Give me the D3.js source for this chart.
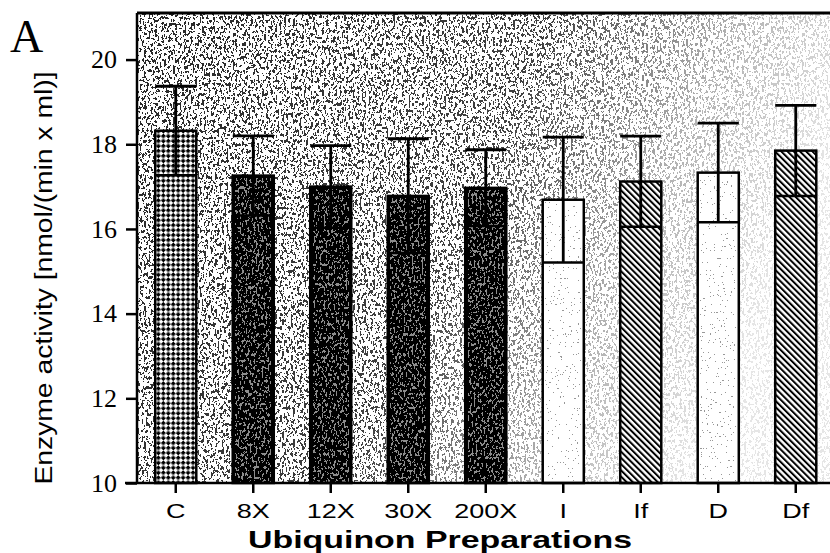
<!DOCTYPE html>
<html lang="en">
<head>
<meta charset="utf-8">
<script src="https://d3js.org/d3.v7.min.js"></script>
<style>
  body { margin: 0; background: #fff; }
  svg { display: block; }
</style>
</head>
<body>
<script>
// data
var categories = ["C", "8X", "12X", "30X", "200X", "I", "If", "D", "Df"];
var means = [18.32, 17.26, 17.0, 16.78, 16.97, 16.69, 17.12, 17.33, 17.85];
var errors = [1.05, 0.94, 0.97, 1.35, 0.9, 1.48, 1.07, 1.17, 1.07];
var yTicks = [10, 12, 14, 16, 18, 20];

// which fill each preparation uses
var fillKind = { "C": "cross", "8X": "dark", "12X": "dark", "30X": "dark", "200X": "dark",
                 "I": "open", "If": "hatch", "D": "open", "Df": "hatch" };

var w = 830, h = 553;
var pLeft = 137, pTop = 13, pBottom = 483;

var x = d3.scaleBand().domain(categories).range([pLeft, 834.5]).paddingInner(0.47).paddingOuter(0.235);
var y = d3.scaleLinear().domain([10, 21.1]).range([pBottom, pTop]);

var svg = d3.select("body").append("svg").attr("width", w).attr("height", h);
var defs = svg.append("defs");

// speckle filters (scan texture)
function speck(id, rgb, freq, seed, cut) {
  var f = defs.append("filter").attr("id", id)
    .attr("x", 0).attr("y", 0).attr("width", 1).attr("height", 1);
  f.append("feTurbulence").attr("type", "fractalNoise").attr("baseFrequency", freq)
    .attr("numOctaves", 3).attr("seed", seed);
  f.append("feColorMatrix").attr("type", "matrix")
    .attr("values", "0 0 0 0 " + rgb + " 0 0 0 0 " + rgb + " 0 0 0 0 " + rgb + " 4 0 0 0 " + cut);
  f.append("feComponentTransfer").append("feFuncA").attr("type", "discrete").attr("tableValues", "0 1");
}
speck("speckDark", 0, "0.45 0.3", 4, -1.75);
speck("speckLight", 1, "0.5 0.3", 9, -1.8);
speck("speckFew", 0, "0.7 0.5", 11, -2.4);

// fade of the background stipple, heavy at upper left
var grad = defs.append("linearGradient").attr("id", "fade")
  .attr("x1", 0).attr("y1", 0).attr("x2", 1).attr("y2", 0.3);
grad.append("stop").attr("offset", 0).attr("stop-color", "#fff").attr("stop-opacity", 0.85);
grad.append("stop").attr("offset", 0.55).attr("stop-color", "#fff").attr("stop-opacity", 0.75);
grad.append("stop").attr("offset", 0.8).attr("stop-color", "#fff").attr("stop-opacity", 0.3);
grad.append("stop").attr("offset", 1).attr("stop-color", "#fff").attr("stop-opacity", 0.1);
defs.append("mask").attr("id", "fadeMask").attr("maskUnits", "userSpaceOnUse")
  .attr("x", 0).attr("y", 0).attr("width", w).attr("height", h)
  .append("rect").attr("x", pLeft).attr("y", pTop).attr("width", w - pLeft).attr("height", pBottom - pTop)
  .attr("fill", "url(#fade)");

// crosshatch for control
var cross = defs.append("pattern").attr("id", "cross").attr("patternUnits", "userSpaceOnUse")
  .attr("width", 7).attr("height", 7).attr("patternTransform", "rotate(45)");
cross.append("rect").attr("width", 7).attr("height", 7).attr("fill", "#fff");
cross.append("rect").attr("width", 3.5).attr("height", 3.5).attr("fill", "#000");
cross.append("rect").attr("x", 3.5).attr("y", 3.5).attr("width", 3.5).attr("height", 3.5).attr("fill", "#000");

// diagonal hatch
var hatch = defs.append("pattern").attr("id", "hatch").attr("patternUnits", "userSpaceOnUse")
  .attr("width", 4.4).attr("height", 10).attr("patternTransform", "rotate(-45)");
hatch.append("rect").attr("width", 4.4).attr("height", 10).attr("fill", "#fff");
hatch.append("rect").attr("width", 2).attr("height", 10).attr("fill", "#000");

// background stipple
svg.append("g").attr("mask", "url(#fadeMask)")
  .append("rect").attr("x", pLeft).attr("y", pTop).attr("width", w - pLeft).attr("height", pBottom - pTop)
  .attr("fill", "#000").attr("filter", "url(#speckDark)");

var rows = categories.map(function(c, i) { return { cat: c, mean: means[i], err: errors[i] }; });

var bars = svg.selectAll("g.bar").data(rows).enter().append("g").attr("class", "bar");

bars.append("rect")
  .attr("x", function(d) { return x(d.cat); })
  .attr("y", function(d) { return y(d.mean); })
  .attr("width", x.bandwidth())
  .attr("height", function(d) { return pBottom - y(d.mean); })
  .attr("fill", function(d) {
    var k = fillKind[d.cat];
    if (k == "cross") return "url(#cross)";
    if (k == "hatch") return "url(#hatch)";
    if (k == "dark") return "#000";
    return "#fff";
  });

// texture inside dark and open bars
bars.filter(function(d) { return fillKind[d.cat] == "dark" || fillKind[d.cat] == "open"; })
  .append("rect")
  .attr("x", function(d) { return x(d.cat) + 3; })
  .attr("y", function(d) { return y(d.mean) + 3; })
  .attr("width", x.bandwidth() - 6)
  .attr("height", function(d) { return pBottom - y(d.mean) - 3; })
  .attr("fill", "#000")
  .attr("opacity", function(d) { return fillKind[d.cat] == "dark" ? 0.55 : 0.4; })
  .attr("filter", function(d) { return fillKind[d.cat] == "dark" ? "url(#speckLight)" : "url(#speckFew)"; });

bars.append("rect")
  .attr("x", function(d) { return x(d.cat); })
  .attr("y", function(d) { return y(d.mean); })
  .attr("width", x.bandwidth())
  .attr("height", function(d) { return pBottom - y(d.mean); })
  .attr("fill", "none").attr("stroke", "#000").attr("stroke-width", 2.5);

// error bars: stem from lower line to cap, both full bar width
bars.append("line")
  .attr("x1", function(d) { return x(d.cat) + x.bandwidth() / 2; })
  .attr("x2", function(d) { return x(d.cat) + x.bandwidth() / 2; })
  .attr("y1", function(d) { return y(d.mean - d.err); })
  .attr("y2", function(d) { return y(d.mean + d.err); })
  .attr("stroke", "#000").attr("stroke-width", 2.8);
bars.append("line")
  .attr("x1", function(d) { return x(d.cat); })
  .attr("x2", function(d) { return x(d.cat) + x.bandwidth(); })
  .attr("y1", function(d) { return y(d.mean + d.err); })
  .attr("y2", function(d) { return y(d.mean + d.err); })
  .attr("stroke", "#000").attr("stroke-width", 2.8);
bars.append("line")
  .attr("x1", function(d) { return x(d.cat); })
  .attr("x2", function(d) { return x(d.cat) + x.bandwidth(); })
  .attr("y1", function(d) { return y(d.mean - d.err); })
  .attr("y2", function(d) { return y(d.mean - d.err); })
  .attr("stroke", "#000").attr("stroke-width", 2.5);

// frame top
svg.append("line").attr("x1", pLeft).attr("x2", w).attr("y1", pTop).attr("y2", pTop)
  .attr("stroke", "#000").attr("stroke-width", 3);

// Y axis
var yAxis = svg.append("g").attr("transform", "translate(" + pLeft + ",0)")
  .call(d3.axisLeft(y).tickValues(yTicks).tickSize(11).tickPadding(9).tickFormat(d3.format("d")));
yAxis.select(".domain").attr("d", "M0," + pTop + "V" + pBottom).attr("stroke-width", 2.5);
yAxis.selectAll(".tick line").attr("stroke-width", 2.5);
yAxis.selectAll(".tick text").attr("font-family", "'Liberation Serif', serif").attr("font-size", "26px")
  .attr("fill", "#000");

// X axis
var xAxis = svg.append("g").attr("transform", "translate(0," + pBottom + ")")
  .call(d3.axisBottom(x).tickSize(10).tickPadding(11));
xAxis.select(".domain").attr("d", "M" + (pLeft - 12) + ",0H" + w).attr("stroke-width", 2.5);
xAxis.selectAll(".tick line").attr("stroke-width", 2.5);
xAxis.selectAll(".tick text").attr("font-family", "'Liberation Sans', Arial, sans-serif")
  .attr("font-size", "20px").attr("fill", "#000").attr("transform", "scale(1.35,1)");

// titles
svg.append("text").attr("x", 440).attr("y", 548).attr("text-anchor", "middle")
  .attr("font-family", "'Liberation Sans', Arial, sans-serif").attr("font-weight", "bold")
  .attr("font-size", "24px").attr("textLength", 384).attr("lengthAdjust", "spacingAndGlyphs")
  .text("Ubiquinon Preparations");

svg.append("text").attr("transform", "translate(52,278) rotate(-90)").attr("text-anchor", "middle")
  .attr("font-family", "'Liberation Sans', Arial, sans-serif").attr("font-size", "23px")
  .attr("textLength", 413).attr("lengthAdjust", "spacingAndGlyphs")
  .text("Enzyme activity [nmol/(min x ml)]");

svg.append("text").attr("x", 10).attr("y", 52)
  .attr("font-family", "'Liberation Serif', serif").attr("font-size", "46px").text("A");
</script>
</body>
</html>
